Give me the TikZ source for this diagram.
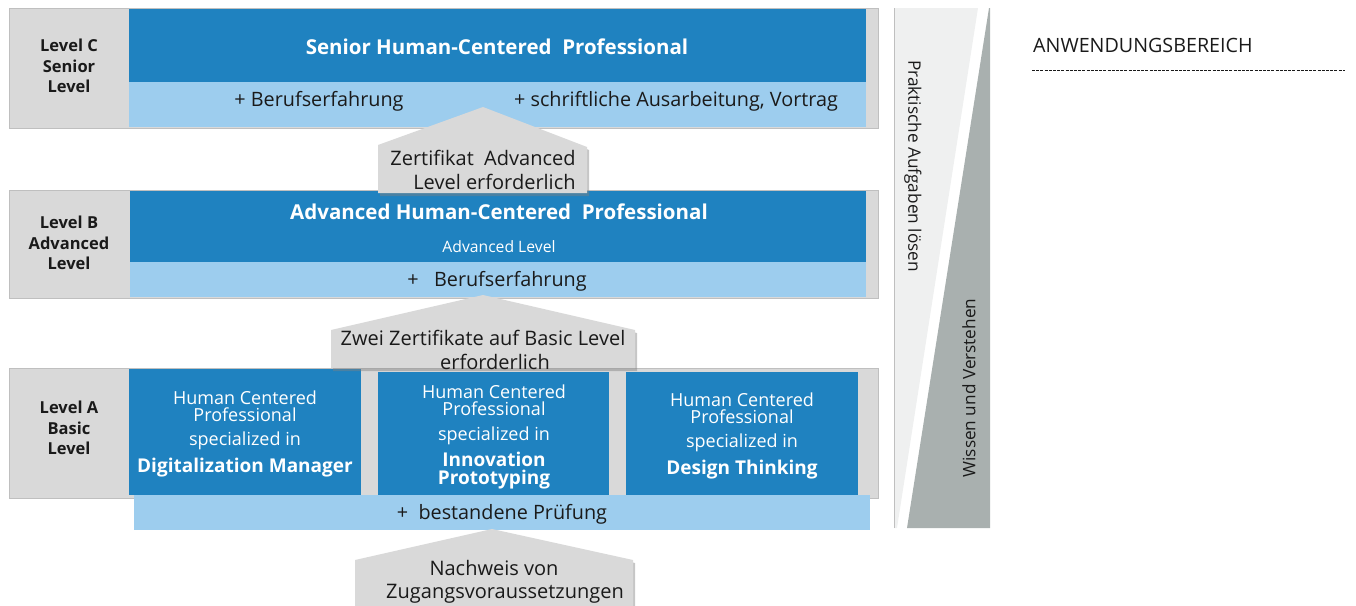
\documentclass[tikz,border=0pt]{standalone}
\usepackage{fontspec}
\setmainfont{Open Sans}
\usetikzlibrary{shadows}
\definecolor{dblue}{HTML}{1F82C0}
\definecolor{lblue}{HTML}{9DCDEE}
\definecolor{lgray}{HTML}{D9D9D9}
\definecolor{bgray}{HTML}{BFBFBF}
\definecolor{pale}{HTML}{EFF0F0}
\definecolor{dgray}{HTML}{A9B0AF}
\definecolor{txt}{HTML}{1A1A1A}
\newcommand\rbox[6]{\node[#6, minimum width=#4pt-#2pt, minimum height=#5pt-#3pt, anchor=north west, inner sep=0pt, outer sep=0pt] (#1) at (#2,#3) {};}
\newcommand\fs[2]{\fontsize{#1}{#2}\selectfont}
\begin{document}
\begin{tikzpicture}[x=1pt,y=-1pt,
  levelbox/.style={fill=lgray, draw=bgray, line width=0.8pt},
  darkbox/.style={fill=dblue},
  lightbox/.style={fill=lblue},
  levellabel/.style={align=center, font=\fs{16.5}{20.5}\bfseries, text=txt, inner sep=0pt},
  title/.style={font=\fs{20.5}{24}\bfseries, text=white, inner sep=0pt},
  plus/.style={font=\fs{19.8}{24}, text=txt, inner sep=0pt},
  spec/.style={align=center, text=white, inner sep=0pt},
  callout/.style={fill=lgray, drop shadow={shadow xshift=2pt, shadow yshift=-3pt, opacity=0.45}},
  callouttext/.style={font=\fs{20}{24}, text=txt, inner sep=0pt},
  side/.style={font=\fs{17.2}{20}, text=txt, inner sep=0pt}]
\useasboundingbox (0,0) rectangle (1356,605);

% ---------- Level C ----------
\rbox{cbg}{9}{8}{878}{128}{levelbox}
\rbox{cdark}{129}{9}{866}{82}{darkbox}
\rbox{clight}{129}{82}{866}{127}{lightbox}
\node[levellabel] (clab) at (69,66) {Level C\\Senior\\Level};
\node[title] (ctitle) at (497,47) {Senior Human-Centered\ \ Professional};
\node[plus] (cplus1) at (319,101.5) {+ Berufserfahrung};
\node[plus] (cplus2) at (676,101.5) {+ schriftliche Ausarbeitung, Vortrag};

% ---------- Level B ----------
\rbox{bbg}{9}{190}{878}{298}{levelbox}
\rbox{bdark}{130}{191}{866}{262}{darkbox}
\rbox{blight}{130}{262}{866}{297}{lightbox}
\node[levellabel] (blab) at (69,243) {Level B\\Advanced\\Level};
\node[title] (btitle) at (499,212) {Advanced Human-Centered\ \ Professional};
\node[font=\fs{15.7}{18}, text=white, inner sep=0pt] (bsub) at (499,247) {Advanced Level};
\node[plus] (bplus) at (497,281.5) {+\ \ \ Berufserfahrung};

% ---------- Level A ----------
\rbox{abg}{9}{368}{878}{498}{levelbox}
\rbox{a1}{129}{369}{361}{495}{darkbox}
\rbox{a2}{378}{372}{609}{495}{darkbox}
\rbox{a3}{626}{372}{858}{495}{darkbox}
\rbox{alight}{134}{495}{870}{530}{lightbox}
\node[levellabel] (alab) at (69,428) {Level A\\Basic\\Level};
\node[spec, font=\fs{18}{17}] (a1t) at (245,406) {Human Centered\\Professional};
\node[spec, font=\fs{18}{17}] (a1s) at (245,441) {specialized in};
\node[spec, font=\fs{19}{18}\bfseries] (a1b) at (245,468) {Digitalization Manager};
\node[spec, font=\fs{18}{17}] (a2t) at (494,400) {Human Centered\\Professional};
\node[spec, font=\fs{18}{17}] (a2s) at (494,436) {specialized in};
\node[spec, font=\fs{19}{18}\bfseries] (a2b) at (494,471) {Innovation\\Prototyping};
\node[spec, font=\fs{18}{17}] (a3t) at (742,408) {Human Centered\\Professional};
\node[spec, font=\fs{18}{17}] (a3s) at (742,443) {specialized in};
\node[spec, font=\fs{19}{18}\bfseries] (a3b) at (742,470) {Design Thinking};
\node[plus] (aplus) at (502,514.5) {+\ \ bestandene Prüfung};

% ---------- Callouts ----------
\path[callout] (378,193) -- (378,145) -- (483,107) -- (587,147) -- (587,193) -- cycle;
\node[callouttext, align=right] (co1) at (483,170) {Zertifikat\ \ Advanced\\Level erforderlich};
\path[callout] (331,368) -- (331,330) -- (483,295) -- (635,330) -- (635,368) -- cycle;
\node[callouttext, align=center] (co2) at (483,350) {Zwei Zertifikate auf Basic Level\\\hspace*{24pt}erforderlich};
\path[callout] (355,606) -- (355,560) -- (492,529) -- (633,560) -- (633,606) -- cycle;
\node[callouttext, align=center, font=\fs{20}{23}] (co3) at (505,582) {\hspace*{-22pt}Nachweis von\\Zugangsvoraussetzungen};

% ---------- Right side wedges ----------
\path[fill=pale] (894,8) -- (978,8) -- (897,528) -- (894,528) -- cycle;
\draw[bgray, line width=0.8pt] (894,8) -- (894,528);
\path[fill=dgray] (989,8) -- (990,8) -- (990,528) -- (907,528) -- cycle;
\node[side, rotate=-90] (prakt) at (913,166) {Praktische Aufgaben lösen};
\node[side, rotate=90] (wissen) at (969,388) {Wissen und Verstehen};

% ---------- Anwendungsbereich ----------
\node[font=\fs{19.7}{24}, text=txt, inner sep=0pt, anchor=west] (anw) at (1033,45) {ANWENDUNGSBEREICH};
\coordinate (dl) at (1032,70);
\coordinate (dr) at (1345,70);
\draw[txt, line width=1pt, dash pattern=on 3pt off 1.2pt] (dl) -- (dr);
\end{tikzpicture}
\end{document}
